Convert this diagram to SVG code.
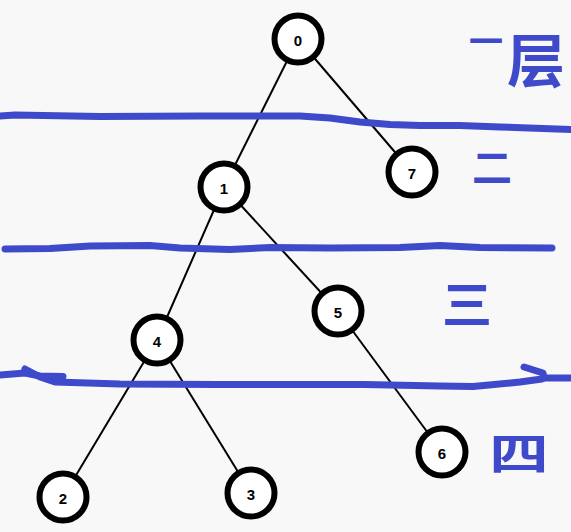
<svg xmlns="http://www.w3.org/2000/svg" width="571" height="532" viewBox="0 0 571 532">
<style>
.edge{stroke:#000;stroke-width:2;fill:none}
.node circle{fill:#fff;stroke:#000;stroke-width:6}
.node text{font-family:"Liberation Sans",Arial,sans-serif;font-weight:bold;font-size:15px;fill:#000;text-anchor:middle;dominant-baseline:central}
.pen{stroke:#3f4acb;stroke-width:7;fill:none;stroke-linecap:round;stroke-linejoin:round}
.hand{font-family:"Noto Sans CJK SC","Noto Sans CJK JP",sans-serif;font-weight:bold;fill:#3f4acb;text-anchor:middle}
</style>
<rect width="571" height="532" fill="#f8f8f8"/>
<g id="connectors">
<line class="edge" x1="298" y1="39" x2="224" y2="187"/>
<line class="edge" x1="298" y1="39" x2="412" y2="172"/>
<line class="edge" x1="224" y1="187" x2="157" y2="340"/>
<line class="edge" x1="224" y1="187" x2="338" y2="311"/>
<line class="edge" x1="157" y1="340" x2="63" y2="497"/>
<line class="edge" x1="157" y1="340" x2="251" y2="493"/>
<line class="edge" x1="338" y1="311" x2="442" y2="452"/>
</g>
<g id="layer-lines">
<path class="pen" d="M0,116 L15,115 L100,116.5 L200,116 L300,116 L330,118 L360,122 L390,124.5 L420,125.5 L460,125.5 L500,127 L571,129.5"/>
<path class="pen" d="M5,249 L50,248.5 L90,246 L150,245.5 L180,248 L230,249.5 L270,247.5 L330,248 L400,247.5 L440,245.5 L480,247.5 L552,248"/>
<path class="pen" d="M0,375 L25,373 L40,376 L63,376.5"/>
<path class="pen" d="M25,369 L40,377 L55,382 L120,384 L218,384.5 L364,384.5 L440,386 L473,386.5 L520,382 L542,379"/>
<path class="pen" d="M524,367 L543,373 L544,378 L570,378"/>
</g>
<g id="node-0" class="node"><circle cx="298" cy="39" r="23.5"/><text x="298" y="40">0</text></g>
<g id="node-7" class="node"><circle cx="412" cy="172" r="23.5"/><text x="412" y="173">7</text></g>
<g id="node-1" class="node"><circle cx="224" cy="187" r="23.5"/><text x="224" y="188">1</text></g>
<g id="node-5" class="node"><circle cx="338" cy="311" r="23.5"/><text x="338" y="312">5</text></g>
<g id="node-4" class="node"><circle cx="157" cy="340" r="23.5"/><text x="157" y="341">4</text></g>
<g id="node-6" class="node"><circle cx="442" cy="452" r="23.5"/><text x="442" y="453">6</text></g>
<g id="node-2" class="node"><circle cx="63" cy="497" r="23.5"/><text x="63" y="498">2</text></g>
<g id="node-3" class="node"><circle cx="251" cy="493" r="23.5"/><text x="251" y="494">3</text></g>
<g id="labels">
<text class="hand" x="486" y="54" font-size="34">一</text>
<text class="hand" x="536" y="82" font-size="58">层</text>
<text class="hand" x="492" y="182" font-size="40">二</text>
<text class="hand" x="467" y="323" font-size="50">三</text>
<text class="hand" transform="translate(519,470) scale(1.35,1)" font-size="44">四</text>
</g>
</svg>
